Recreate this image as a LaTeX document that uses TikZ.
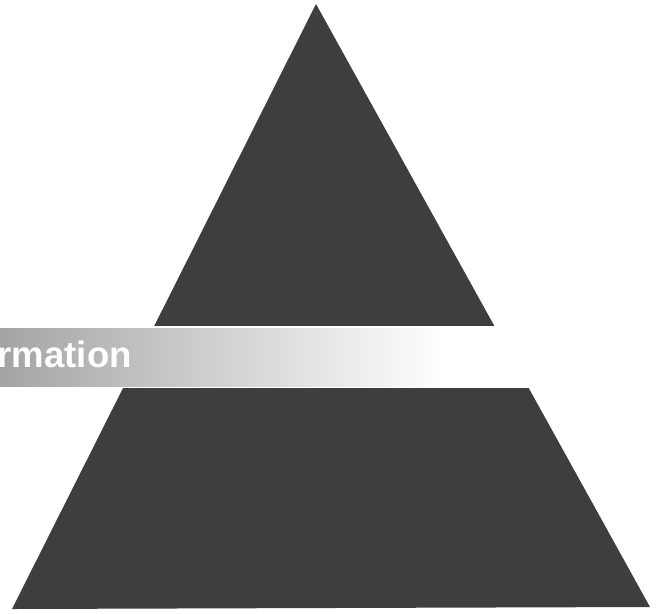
\documentclass[tikz,border=0pt]{standalone}
\usepackage{fontspec}
\setmainfont{Liberation Sans}
\usepackage{tikz}
\usetikzlibrary{positioning}
\definecolor{pyrdark}{RGB}{62,62,62}
\definecolor{bandgray}{RGB}{164,164,164}
\tikzset{
  pyramid/.style={fill=pyrdark, draw=none},
  gap/.style={fill=white, draw=none},
  band/.style={left color=bandgray, right color=white, draw=none},
  bandlabel/.style={text=white, inner sep=0pt,
    font=\fontsize{26}{30}\selectfont\bfseries}
}
\begin{document}
\begin{tikzpicture}[x=0.025cm, y=-0.025cm]
  \useasboundingbox (0,0) rectangle (661,613);
  \clip (0,0) rectangle (661,613);

  % pyramid, cut by the band
  \fill[pyramid] (316,4) -- (650,607) -- (12,609) -- cycle;
  \fill[gap] (0,326) rectangle (661,388);

  \shade[band] (0,328) rectangle (445,386);
  \node[bandlabel, anchor=base east] (info) at (132,367) {Information};
\end{tikzpicture}
\end{document}
